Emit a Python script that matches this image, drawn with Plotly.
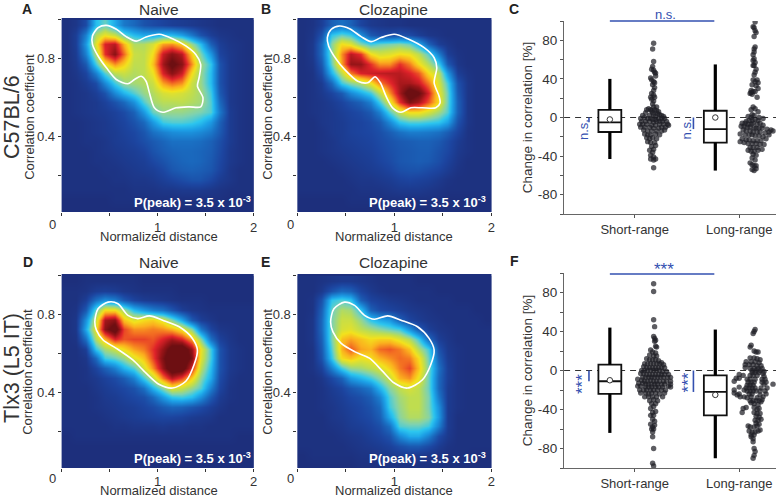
import plotly.graph_objects as go

W, H = 780, 498
FONT = "Liberation Sans"
INK = "#333333"
BLUE = "#3350b0"
NAVY = "#1d2f7c"

# ---------- heat-map values (top row first), columns x=0.05..1.95, rows y=0.975..0.025
x_bins = [0.05,0.15,0.25,0.35,0.45,0.55,0.65,0.75,0.85,0.95,1.05,1.15,1.25,1.35,1.45,1.55,1.65,1.75,1.85,1.95]
y_bins = [0.975,0.925,0.875,0.825,0.775,0.725,0.675,0.625,0.575,0.525,0.475,0.425,0.375,0.325,0.275,0.225,0.175,0.125,0.075,0.025]

z_A = [
[1,3,10,38,46,34,22,18,12,10,8,6,5,4,3,2,1,1,1,1],
[1,6,24,56,66,60,46,38,34,34,38,38,32,22,12,6,3,2,1,1],
[1,6,30,64,90,94,74,56,56,62,76,78,70,52,38,16,6,3,2,1],
[1,5,24,56,88,100,82,60,58,68,92,100,94,70,48,30,8,4,2,1],
[1,4,14,42,66,78,70,58,58,72,96,108,100,78,54,40,12,4,2,1],
[1,3,8,24,44,58,60,56,58,66,90,100,92,68,52,38,12,4,2,1],
[1,2,5,10,26,42,52,54,56,60,76,82,78,60,52,38,12,4,2,1],
[1,2,3,6,12,26,36,44,52,56,62,64,62,58,54,42,14,4,2,1],
[1,2,3,4,7,12,18,28,44,54,57,57,58,56,54,44,18,4,2,1],
[1,2,3,4,5,7,10,16,30,46,52,52,52,50,48,44,22,5,2,1],
[1,1,2,3,4,6,8,12,18,30,42,44,44,42,38,30,16,5,2,1],
[1,1,2,3,4,5,7,9,13,20,24,27,28,28,26,22,14,5,2,1],
[1,1,2,2,3,5,6,8,11,14,17,20,20,20,19,16,11,5,2,1],
[1,1,1,2,3,4,5,6,8,12,15,17,18,18,17,15,10,4,2,1],
[1,1,1,2,2,3,4,5,6,9,12,15,17,18,17,14,9,4,2,1],
[1,1,1,1,2,2,3,4,5,6,9,13,15,16,15,13,8,3,1,1],
[1,1,1,1,1,2,2,3,3,4,6,8,10,12,12,9,5,3,1,1],
[1,1,1,1,1,1,1,2,2,2,3,3,4,4,4,3,2,1,1,1],
[0,0,0,0,0,1,1,1,1,1,1,1,1,1,1,1,1,0,0,0],
[0,0,0,0,0,0,0,0,0,0,0,0,0,0,0,0,0,0,0,0],
]
z_B = [
[1,2,6,16,20,16,8,4,3,2,2,1,1,1,1,1,1,1,1,1],
[1,3,12,40,46,42,28,14,10,10,12,10,6,3,2,1,1,1,1,1],
[1,4,18,50,68,64,50,42,46,48,50,46,34,16,6,3,1,1,1,1],
[1,4,18,50,78,94,88,68,62,64,68,66,58,44,24,6,2,1,1,1],
[1,3,14,46,76,98,98,88,78,78,88,80,68,56,42,14,3,1,1,1],
[1,2,10,36,58,80,90,92,93,94,94,90,84,68,58,30,6,2,1,1],
[1,2,5,18,42,50,56,66,80,88,96,96,92,80,62,42,12,3,1,1],
[1,2,4,8,14,26,34,42,58,78,96,112,106,90,66,46,14,3,1,1],
[1,2,3,5,8,12,16,24,42,64,88,102,96,84,68,46,16,3,1,1],
[1,2,3,4,6,8,10,14,24,44,60,68,68,62,54,44,16,3,1,1],
[1,1,3,4,5,7,8,10,14,26,40,44,44,42,40,32,12,3,1,1],
[1,1,2,4,5,7,8,9,11,15,20,23,23,22,20,15,8,2,1,1],
[1,1,2,3,5,6,7,8,10,12,14,15,16,16,14,10,5,2,1,1],
[1,1,2,3,4,5,6,7,9,11,13,14,15,15,12,9,4,2,1,1],
[1,1,1,2,3,4,5,6,8,10,13,14,15,14,11,7,3,1,1,1],
[1,1,1,1,2,3,4,5,6,8,11,12,12,10,8,5,2,1,1,1],
[1,1,1,1,1,2,3,3,4,5,7,8,7,6,4,2,1,1,1,1],
[1,1,1,1,1,1,2,2,2,3,4,4,4,3,2,1,1,1,1,1],
[0,0,0,0,0,1,1,1,1,1,1,1,1,1,1,0,0,0,0,0],
[0,0,0,0,0,0,0,0,0,0,0,0,0,0,0,0,0,0,0,0],
]
z_D = [
[0,0,1,1,1,1,1,1,0,0,0,0,0,0,0,0,0,0,0,0],
[1,1,2,5,6,5,3,2,1,1,1,1,0,0,0,0,0,0,0,0],
[1,1,6,20,28,24,14,8,5,4,3,2,1,1,1,0,0,0,0,0],
[1,2,14,46,68,68,54,38,30,24,20,13,6,3,2,1,1,1,1,1],
[1,3,28,60,96,100,72,64,68,70,64,50,34,14,6,3,1,1,1,1],
[1,3,34,66,100,112,86,78,78,80,78,74,66,50,22,8,3,2,1,1],
[1,2,20,56,74,90,84,86,86,84,90,96,90,76,50,20,7,3,1,1],
[1,1,6,40,54,60,68,76,80,88,98,110,114,98,66,42,12,4,2,1],
[1,1,3,18,42,46,52,64,72,86,102,116,116,102,64,42,12,4,2,1],
[1,1,2,8,16,24,36,44,62,78,98,114,112,90,58,38,12,4,2,1],
[1,1,2,4,7,10,15,24,42,58,80,94,86,70,50,34,10,3,1,1],
[1,1,1,3,5,7,9,12,20,36,50,64,60,52,44,24,8,2,1,1],
[1,1,1,2,4,5,7,9,11,18,30,40,42,38,28,14,5,2,1,1],
[1,1,1,2,3,4,5,6,8,10,14,17,16,13,10,6,3,1,1,1],
[1,1,1,1,2,3,4,5,6,7,8,8,7,5,4,3,1,1,1,1],
[1,1,1,1,1,2,2,3,3,3,4,3,3,2,2,1,1,1,1,1],
[0,1,1,1,1,1,1,1,1,1,1,1,1,1,1,1,1,1,0,0],
[0,0,0,0,0,0,0,0,0,0,0,0,0,0,0,0,0,0,0,0],
[0,0,0,0,0,0,0,0,0,0,0,0,0,0,0,0,0,0,0,0],
[0,0,0,0,0,0,0,0,0,0,0,0,0,0,0,0,0,0,0,0],
]
z_E = [
[1,1,2,3,4,4,3,2,1,1,1,1,0,0,0,0,0,0,0,0],
[1,1,4,12,18,16,8,4,2,1,1,1,1,1,0,0,0,0,0,0],
[1,2,12,40,44,40,16,8,6,4,3,2,1,1,1,1,0,0,0,0],
[1,2,16,46,56,54,40,16,10,8,6,4,3,2,1,1,1,1,0,0],
[1,3,18,48,60,60,52,40,34,30,16,8,5,3,2,1,1,1,1,0],
[1,3,18,48,62,64,58,54,50,46,42,28,14,6,3,2,1,1,1,1],
[1,3,16,48,72,76,72,68,70,70,64,56,42,18,6,3,1,1,1,1],
[1,2,14,44,74,84,76,74,82,84,80,72,56,42,12,4,2,1,1,1],
[1,2,12,40,68,72,66,68,74,78,82,80,68,46,16,5,2,1,1,1],
[1,2,7,24,42,52,54,58,62,70,80,86,72,48,20,6,2,1,1,1],
[1,1,3,9,16,30,36,42,50,60,74,78,66,46,18,6,2,1,1,1],
[1,1,2,5,8,13,17,22,36,50,58,62,58,46,18,5,2,1,1,1],
[1,1,2,4,6,9,11,15,24,44,54,58,58,48,22,5,2,1,1,1],
[1,1,2,3,5,7,9,12,18,42,52,58,58,48,28,5,2,1,1,1],
[1,1,1,3,4,6,8,10,15,34,50,56,56,50,30,5,1,1,1,1],
[1,1,1,2,3,5,6,8,11,20,44,46,46,42,24,5,1,1,1,1],
[1,1,1,1,2,3,4,6,8,12,26,34,34,24,10,4,1,1,1,1],
[1,1,1,1,1,2,3,4,5,7,11,14,14,10,5,2,1,1,1,1],
[0,1,1,1,1,1,2,2,3,4,5,5,4,3,2,1,1,1,0,0],
[0,0,0,0,0,0,1,1,1,1,1,1,1,1,1,0,0,0,0,0],
]

# ---------- white contour outlines
cA_x = [.32,.38,.465,.57,.672,.776,.879,1.017,1.155,1.293,1.397,1.448,1.431,1.414,1.472,1.448,1.328,1.19,1.052,.966,.914,.879,.828,.759,.69,.569,.466,.379,.321,.32]
cA_y = [.917,.96,.972,.952,.914,.891,.912,.926,.903,.866,.822,.771,.702,.659,.598,.552,.552,.547,.524,.547,.624,.684,.71,.693,.671,.693,.753,.814,.874,.917]
cB_x = [.308,.349,.434,.537,.656,.759,.862,.998,1.135,1.306,1.409,1.436,1.409,1.46,1.47,1.426,1.289,1.169,1.067,.981,.913,.855,.8,.725,.622,.485,.4,.321,.308]
cB_y = [.909,.952,.969,.955,.914,.888,.909,.926,.903,.857,.805,.753,.676,.607,.572,.547,.547,.547,.524,.547,.607,.676,.707,.676,.684,.745,.797,.866,.909]
cD_x = [.345,.379,.483,.586,.69,.793,.914,1.052,1.224,1.362,1.414,1.379,1.293,1.155,1.017,.879,.741,.569,.431,.362,.345]
cD_y = [.763,.831,.865,.857,.797,.78,.794,.772,.738,.678,.618,.542,.457,.422,.44,.499,.567,.627,.67,.721,.763]
cE_x = [.342,.376,.485,.588,.691,.793,.93,1.067,1.238,1.357,1.409,1.374,1.289,1.135,.998,.879,.742,.588,.451,.366,.342]
cE_y = [.763,.831,.865,.848,.797,.777,.794,.772,.738,.678,.618,.542,.465,.422,.448,.508,.576,.61,.652,.712,.763]

# ---------- swarm points: (horizontal offset, change %)
C_short = [(0,77),(-1,71),(0,58),(-1,53),(-2,50),(0,49),(1,47),(2,46),(2,43),(-3,41),(-2,39),(0,37),(1,36),(-1,34),(1,31),(0,28),(-2,25),(0,23),(-3,21),(-2,19),(1,21),(0,17),(-1,14),(0,11),(3,11),(-5,9),(-7,8),(-3,8),(-2,7),(1,8),(3,7),(5,6),(-8,5),(-1,5),(4,4),(0,3),(6,3),(-11,2),(-4,2),(8,2),(2,1),(10,1),
(-13,-1),(-9,0),(-6,-1),(-3,-1),(-1,-2),(2,-2),(5,-1),(8,-1),(11,-1),(-12,-4),(-8,-4),(-4,-4),(0,-5),(3,-4),(6,-4),(9,-4),(13,-4),(-14,-7),(-11,-7),(-7,-7),(-2,-8),(2,-8),(6,-7),(10,-7),(14,-7),(-13,-10),(-9,-10),(-4,-10),(0,-11),(5,-11),(8,-10),(12,-10),(15,-8),(-10,-13),(-6,-14),(-2,-14),(3,-14),(8,-14),(11,-13),(-9,-17),(-6,-18),(-3,-18),(2,-17),(6,-18),(-7,-21),(-4,-22),(-1,-21),(3,-22),(-6,-25),(-3,-26),(1,-26),(-2,-30),(0,-33),(2,-29),(-4,-34),(-1,-36),(-3,-39),(0,-41),(-3,-43),(0,-44),(2,-43),(0,-52)]
C_long = [(1,99),(-1,94),(0,93),(1,90),(2,88),(0,84),(1,73),(0,71),(0,68),(-1,65),(0,61),(-1,59),(1,57),(0,54),(-1,54),(2,50),(1,47),(0,44),(3,39),(-1,39),(1,37),(4,36),(-2,34),(2,33),(4,30),(-3,28),(-1,27),(1,27),(-4,25),(-2,24),(-3,26),(3,21),
(-1,11),(1,9),(-3,8),(4,6),(-2,3),(0,2),(-6,1),(-3,0),(5,0),(9,-1),(-8,-4),(-5,-3),(-2,-3),(1,-2),(4,-3),(-12,-6),(-9,-6),(-6,-7),(-3,-7),(-1,-6),(3,-7),(6,-6),(9,-8),(-13,-9),(-10,-9),(-7,-10),(-4,-10),(0,-11),(2,-11),(5,-11),(8,-11),(13,-12),(17,-13),(19,-14),(15,-15),(-11,-13),(-8,-14),(-4,-14),(-1,-15),(3,-15),(6,-15),(11,-16),(15,-18),(-14,-17),(-9,-18),(-5,-18),(-2,-18),(1,-19),(5,-19),(9,-20),(-12,-22),(-8,-23),(-5,-23),(-1,-24),(3,-24),(7,-24),(12,-22),(-14,-25),(-10,-26),(-6,-27),(-2,-27),(2,-27),(6,-28),(10,-28),(-4,-31),(-1,-31),(3,-31),(-6,-34),(-3,-35),(0,-35),(4,-34),(8,-33),(-1,-38),(2,-39),(-2,-42),(1,-44),(-4,-47),(-2,-49),(0,-50),(2,-50),(-2,-54),(0,-55),(2,-53)]
F_short = [(0,89),(0,81),(0,52),(1,45),(0,35),(1,33),(2,31),(1,30),(2,25),(3,24),(-3,21),(-1,19),(2,18),(-4,16),(0,15),(3,15),(-7,12),(-4,11),(-1,11),(2,11),(5,10),(8,8),(-9,7),(-6,7),(-3,7),(0,7),(3,7),(6,7),(10,6),(-10,4),(-7,3),(-4,3),(-1,3),(2,3),(5,3),(8,3),(11,3),
(-12,0),(-9,0),(-6,0),(-3,0),(0,0),(3,0),(6,0),(9,-1),(13,-1),(-13,-3),(-10,-3),(-7,-4),(-4,-4),(-1,-4),(2,-4),(5,-4),(8,-4),(11,-4),(15,-4),(-11,-7),(-8,-7),(-5,-7),(-2,-7),(1,-7),(4,-7),(7,-7),(10,-7),(14,-7),(17,-7),
(-16,-9),(-12,-10),(-9,-11),(-6,-11),(-3,-10),(0,-11),(3,-11),(6,-11),(10,-11),(13,-11),(17,-11),(-15,-13),(-11,-13),(-8,-14),(-5,-14),(-2,-14),(1,-14),(4,-14),(8,-14),(11,-14),(17,-14),(-16,-16),(-13,-16),(-8,-17),(-5,-17),(-2,-17),(2,-17),(5,-17),(9,-17),(15,-16),(17,-17),
(-14,-20),(-10,-20),(-7,-20),(-3,-20),(0,-20),(4,-20),(8,-20),(12,-20),(-13,-23),(-8,-23),(-5,-24),(-2,-23),(2,-23),(6,-24),(11,-23),(-9,-27),(-5,-27),(-1,-27),(3,-27),(9,-27),(-4,-31),(0,-30),(4,-31),(-2,-34),(2,-34),(0,-37),(-3,-39),(-1,-43),(2,-42),(-3,-46),(0,-46),(-1,-50),(1,-52),(-3,-55),(-1,-58),(1,-56),(-2,-60),(0,-60),(-1,-63),(-1,-68),(0,-80),(-1,-95),(0,-98)]
F_long = [(1,42),(0,40),(-1,38),(-3,26),(-4,24),(0,20),(2,19),(4,19),(-4,13),(0,13),(3,12),(6,11),(-8,9),(-3,9),(1,9),(5,8),(-9,6),(-5,6),(-1,6),(3,5),(7,5),(-9,3),(-4,2),(0,2),(4,2),(8,2),(-2,0),(2,0),(6,0),(10,-1),
(-2,-2),(1,-2),(5,-2),(9,-3),(-15,-4),(-11,-5),(-4,-5),(-1,-5),(3,-5),(10,-6),(-15,-8),(-18,-8),(-7,-9),(-4,-9),(1,-9),(8,-9),(11,-9),(-20,-11),(-6,-12),(-3,-12),(0,-12),(8,-12),(12,-12),(19,-14),(-7,-15),(-4,-15),(-1,-15),(10,-14),
(-15,-17),(-8,-18),(-5,-18),(-2,-18),(1,-18),(7,-18),(13,-18),(-20,-20),(-10,-20),(-7,-21),(-4,-21),(-1,-21),(2,-21),(6,-21),(11,-21),(-20,-23),(-15,-24),(-5,-24),(-2,-24),(6,-25),(12,-24),(-17,-25),(-14,-27),(-10,-27),(-7,-28),(-3,-27),(3,-28),(9,-27),
(-4,-31),(-1,-31),(2,-31),(5,-31),(8,-30),(-3,-33),(0,-34),(4,-35),(7,-32),(-8,-38),(-11,-39),(-12,-43),(0,-38),(3,-40),(5,-39),(0,-43),(3,-44),(6,-44),(2,-47),(5,-48),(1,-51),(4,-51),(7,-50),(2,-54),(5,-55),(-6,-57),(-4,-58),(0,-58),(3,-57),(6,-61),(-5,-62),(-2,-63),(1,-63),(4,-62),(-3,-66),(0,-66),(-1,-70),(-3,-68),(-1,-73),(0,-80),(1,-83),(0,-87),(-1,-90)]

# ---------- box statistics: low whisker, q1, median, q3, high whisker, mean
C_short_box = [-43,-15,-5,8,40,-2]
C_long_box = [-55,-26,-12,7,55,0]
F_short_box = [-64,-24,-11,6,44,-10]
F_long_box = [-90,-46,-22,-5,42,-25]

JET = [[0,NAVY],[.08,"#1c45a0"],[.18,"#1a6cc0"],[.30,"#1c9fe6"],[.38,"#2cc6ef"],[.46,"#7fd2b0"],[.55,"#bedd50"],[.64,"#f3e21c"],[.71,"#fbb01e"],[.78,"#f26b22"],[.85,"#e0232a"],[.93,"#991518"],[1,"#6d0f12"]]

def fx(px): return px / W
def fy(py): return 1 - py / H

fig = go.Figure()
ann = []
def text(px, py, s, size=13, color=INK, bold=False, angle=0, anchor="center"):
    ann.append(dict(x=fx(px), y=fy(py), xref="paper", yref="paper", text=f"<b>{s}</b>" if bold else s,
                    showarrow=False, font=dict(family=FONT, size=size, color=color),
                    textangle=angle, xanchor=anchor, yanchor="middle"))

axes = {}
def add_heat(n, z, cx, cy, x0, x1, y0, y1, standoff=0):
    xa, ya = f"xaxis{n}", f"yaxis{n}"
    axes[xa] = dict(domain=[fx(x0), fx(x1)], range=[0, 2], anchor=f"y{n}", tickmode="array",
                    tickvals=[1, 2], ticktext=["1", "2"], ticks="outside", ticklen=3, tickcolor=INK, ticklabelstandoff=standoff,
                    minor=dict(tickvals=[0, .5, 1.5], ticks="outside", ticklen=3, tickcolor=INK),
                    tickfont=dict(family=FONT, size=13, color=INK), showgrid=False, zeroline=False, showline=False)
    axes[ya] = dict(domain=[fy(y1), fy(y0)], range=[0.01, 1.01], anchor=f"x{n}", tickmode="array",
                    tickvals=[.4, .8], ticktext=["0.4", "0.8"], ticks="outside", ticklen=3, tickcolor=INK,
                    minor=dict(tickvals=[.2, .6, 1.0], ticks="outside", ticklen=3, tickcolor=INK),
                    tickfont=dict(family=FONT, size=13, color=INK), showgrid=False, zeroline=False, showline=False)
    fig.add_shape(type="rect", xref=f"x{n} domain", yref=f"y{n} domain", x0=0, x1=1, y0=0, y1=1,
                  fillcolor=NAVY, line=dict(width=0), layer="below")
    fig.add_trace(go.Heatmap(z=z[::-1], x=x_bins, y=y_bins[::-1], colorscale=JET, zmin=0, zmax=105, zsmooth="best",
                             showscale=False, hoverinfo="skip", xaxis=f"x{n}", yaxis=f"y{n}"))
    fig.add_trace(go.Scatter(x=cx, y=cy, mode="lines", line=dict(color="white", width=1.6, shape="spline", smoothing=0.8),
                             hoverinfo="skip", showlegend=False, xaxis=f"x{n}", yaxis=f"y{n}"))

add_heat(2, z_A, cA_x, cA_y, 62, 255, 18, 212)
add_heat(3, z_B, cB_x, cB_y, 299, 494, 18, 212)
add_heat(4, z_D, cD_x, cD_y, 62, 255, 274, 468, -2)
add_heat(5, z_E, cE_x, cE_y, 299, 494, 274, 468, -2)

BOX_A, BOX_B, SW_A, SW_B = 46, 152, 90, 191
def add_swarm(n, short, long_, b1, b2, y0, y1):
    xa, ya = f"xaxis{n}", f"yaxis{n}"
    axes[xa] = dict(domain=[fx(567), 1], range=[0, 213], anchor=f"y{n}", tickmode="array", tickvals=[71, 176],
                    ticktext=["Short-range", "Long-range"], ticks="outside", ticklen=3, tickcolor="#555",
                    tickfont=dict(family=FONT, size=13, color=INK), showgrid=False, zeroline=False,
                    showline=True, linecolor="#666", linewidth=1.3)
    axes[ya] = dict(domain=[fy(y1), fy(y0)], range=[-100, 100], anchor=f"x{n}", tickmode="array",
                    tickvals=[-80, -40, 0, 40, 80], ticktext=["-80", "-40", "0", "40", "80"],
                    ticks="outside", ticklen=3, tickcolor="#555",
                    minor=dict(tickvals=[-100, -60, -20, 20, 60, 100], ticks="outside", ticklen=3, tickcolor="#555"),
                    tickfont=dict(family=FONT, size=13.5, color=INK), showgrid=False, zeroline=False,
                    showline=True, linecolor="#666", linewidth=1.3)
    fig.add_shape(type="line", xref=f"x{n}", yref=f"y{n}", x0=0, x1=213, y0=0, y1=0, layer="below",
                  line=dict(color="#333", width=1.2, dash="6px,5px"))
    for bx, st in ((BOX_A, b1), (BOX_B, b2)):
        fig.add_trace(go.Scatter(x=[bx, bx, None, bx, bx], y=[st[0], st[1], None, st[3], st[4]], mode="lines",
                                 line=dict(color="black", width=3.2), hoverinfo="skip", showlegend=False,
                                 xaxis=f"x{n}", yaxis=f"y{n}"))
        fig.add_trace(go.Box(x=[bx], q1=[st[1]], median=[st[2]], q3=[st[3]], lowerfence=[st[1]], upperfence=[st[3]],
                             width=23, whiskerwidth=0, line=dict(color="#111", width=1.8), fillcolor="white",
                             boxpoints=False, hoverinfo="skip", showlegend=False, xaxis=f"x{n}", yaxis=f"y{n}"))
        fig.add_trace(go.Scatter(x=[bx], y=[st[5]], mode="markers",
                                 marker=dict(size=5.5, color="white", line=dict(color="#333", width=1)),
                                 hoverinfo="skip", showlegend=False, xaxis=f"x{n}", yaxis=f"y{n}"))
    for c, pts in ((SW_A, short), (SW_B, long_)):
        fig.add_trace(go.Scatter(x=[c + p[0] for p in pts], y=[p[1] for p in pts], mode="markers",
                                 marker=dict(size=5.4, color="rgba(30,30,38,0.72)", line=dict(width=0)),
                                 hoverinfo="skip", showlegend=False, xaxis=f"x{n}", yaxis=f"y{n}"))

add_swarm(6, C_short, C_long, C_short_box, C_long_box, 21, 214)
add_swarm(7, F_short, F_long, F_short_box, F_long_box, 273, 468)

def vbar(n, xv, y0, y1, width=1.6):
    fig.add_shape(type="line", xref=f"x{n}", yref=f"y{n}", x0=xv, x1=xv, y0=y0, y1=y1, line=dict(color=BLUE, width=width))
def hbar(n, x0, x1, py):
    fig.add_shape(type="line", xref=f"x{n}", yref="paper", x0=x0, x1=x1, y0=fy(py), y1=fy(py), line=dict(color=BLUE, width=1.6))
hbar(6, 46, 151, 21); hbar(7, 46, 151, 274)
vbar(6, 25, 0, -5); vbar(6, 130, 0, -12); vbar(7, 25, 0, -11); vbar(7, 130, 0, -22)

text(669, 14, "n.s.", 13, BLUE)
text(586, 129, "n.s.", 13, BLUE, angle=-90)
text(690, 129, "n.s.", 13, BLUE, angle=-90)
text(667, 269, "***", 17, BLUE)
text(585, 384, "***", 17, BLUE, angle=-90)
text(692, 382, "***", 17, BLUE, angle=-90)

for s, x, y in (("A", 27, 9), ("B", 267, 9), ("C", 517, 9), ("D", 28, 262), ("E", 267, 262), ("F", 517, 261)):
    text(x, y, s, 14, "#222", bold=True)
for s, x, y in (("Naive", 160, 9), ("Clozapine", 396, 9), ("Naive", 160, 262), ("Clozapine", 396, 262)):
    text(x, y, s, 15.5)
text(12, 117, "C57BL/6", 21.5, angle=-90)
text(12, 368, "Tlx3 (L5 IT)", 21.5, angle=-90)
for x, y in ((160, 236), (396, 236), (160, 490), (396, 490)):
    text(x, y, "Normalized distance", 13)
for x, y in ((29, 117), (268, 117), (27, 372), (268, 372)):
    text(x, y, "Correlation coefficient", 13, angle=-90)
for y in (117, 370):
    text(530, y, "Change in correlation [%]", 13.5, angle=-90)
for x, y in ((53, 224), (292, 224), (53, 478), (292, 478)):
    text(x, y, "0", 13)
for x, y in ((254, 202), (491, 202), (254, 458), (491, 458)):
    text(x, y, "P(peak) = 3.5 x 10<sup>-3</sup>", 13, "white", bold=True, anchor="right")

fig.update_layout(width=W, height=H, margin=dict(l=0, r=0, t=0, b=0), paper_bgcolor="white", plot_bgcolor="white",
                  showlegend=False, annotations=ann, boxmode="overlay", **axes)
fig.write_html("out.html", post_script="document.body.style.margin='0';", config=dict(displayModeBar=False))
